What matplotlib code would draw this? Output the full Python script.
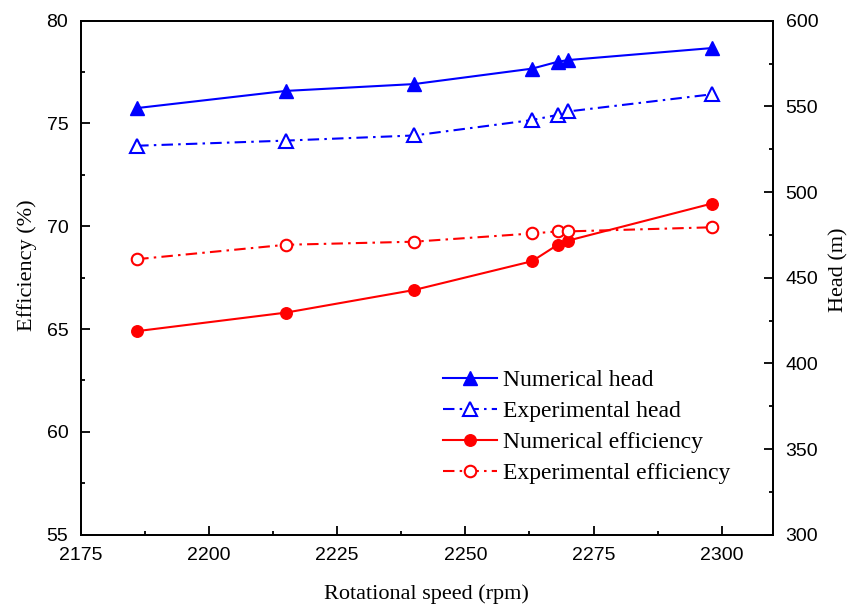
import numpy as np
import matplotlib
matplotlib.use("Agg")
import matplotlib.pyplot as plt
from matplotlib.ticker import MultipleLocator

# ── Data ──────────────────────────────────────────────────────────────────────
speed        = [2186, 2215, 2240, 2263, 2268, 2270, 2298]
num_head     = [549, 559, 563, 572, 576, 577, 584]
exp_head     = [527, 530, 533, 542, 545, 547, 557]
num_eff      = [64.9, 65.8, 66.9, 68.3, 69.1, 69.3, 71.1]
exp_eff      = [68.4, 69.1, 69.25, 69.65, 69.75, 69.75, 69.95]

SANS  = "Liberation Sans"
SERIF = "Liberation Serif"
DASHDOT = (0, (5.5, 2.5, 1.2, 2.5))

plt.rcParams["font.family"] = SANS

fig = plt.figure(figsize=(8.5, 6.08), dpi=100)
ax1 = fig.add_axes([0.095, 0.1206, 0.8145, 0.8454])
ax2 = ax1.twinx()

# efficiency on the left axis
l3, = ax1.plot(speed, num_eff, color="red", lw=1.5, marker="o", ms=8.3,
               label="Numerical efficiency")
l4, = ax1.plot(speed, exp_eff, color="red", lw=1.5, ls=DASHDOT, marker="o",
               ms=8.3, mfc="white", mew=1.5, label="Experimental efficiency")

# head on the right axis
l1, = ax2.plot(speed, num_head, color="blue", lw=1.5, marker="^", ms=9.8,
               label="Numerical head")
l2, = ax2.plot(speed, exp_head, color="blue", lw=1.5, ls=DASHDOT, marker="^",
               ms=9.8, mfc="white", mew=1.5, label="Experimental head")

ax1.set_xlim(2175, 2310)
ax1.set_ylim(55, 80)
ax2.set_ylim(300, 600)

ax1.xaxis.set_major_locator(MultipleLocator(25))
ax1.xaxis.set_minor_locator(MultipleLocator(12.5))
ax1.yaxis.set_major_locator(MultipleLocator(5))
ax1.yaxis.set_minor_locator(MultipleLocator(2.5))
ax2.yaxis.set_major_locator(MultipleLocator(50))
ax2.yaxis.set_minor_locator(MultipleLocator(25))

for ax in (ax1, ax2):
    for s in ax.spines.values():
        s.set_linewidth(1.3)
ax1.tick_params(axis="both", which="major", direction="in", length=6.5,
                width=1.3, labelsize=14, pad=9, top=False, right=False)
ax1.tick_params(axis="both", which="minor", direction="in", length=3,
                width=1.3, top=False, right=False)
ax2.tick_params(axis="y", which="major", direction="in", length=6.5,
                width=1.3, labelsize=14, pad=9)
ax2.tick_params(axis="y", which="minor", direction="in", length=3, width=1.3)

ax1.set_xlabel("Rotational speed (rpm)", family=SERIF, fontsize=16)
ax1.set_ylabel("Efficiency (%)", family=SERIF, fontsize=16)
ax2.set_ylabel("Head (m)", family=SERIF, fontsize=16)
ax1.xaxis.set_label_coords(0.5, -0.096)
ax1.yaxis.set_label_coords(-0.063, 0.525)
ax2.yaxis.set_label_coords(1.081, 0.515)

fig.legend(handles=[l1, l2, l3, l4], loc="upper left",
           bbox_to_anchor=(0.521, 0.392), frameon=False,
           prop={"family": SERIF, "size": 17}, handlelength=2.3,
           handletextpad=0.25, labelspacing=0.4, borderpad=0,
           borderaxespad=0)

fig.savefig("out.png", dpi=100)
